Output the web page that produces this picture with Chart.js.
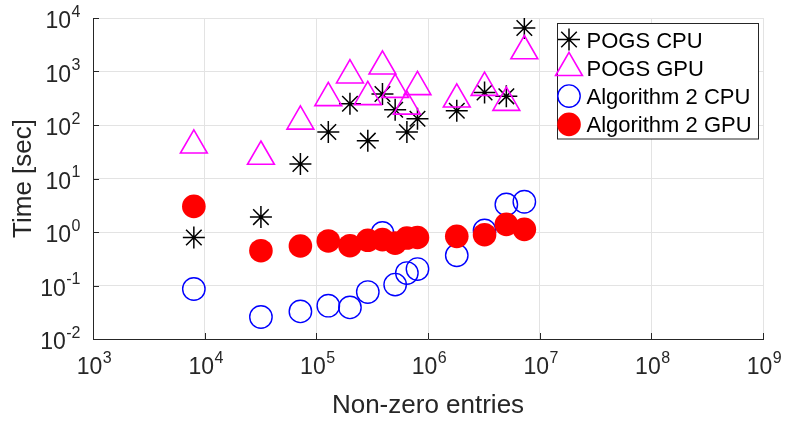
<!DOCTYPE html>
<html>
<head>
<meta charset="utf-8">
<script src="https://cdn.jsdelivr.net/npm/chart.js@4.4.1/dist/chart.umd.min.js"></script>
<style>
  html, body { margin: 0; padding: 0; background: #fff; }
  #wrap { width: 785px; height: 421px; }
</style>
</head>
<body>
<div id="wrap"><canvas id="graphCanvas"></canvas></div>
<script>
// problem sizes (non-zero entries) shared by all four runs
var nnz = [8.0e3, 3.19e4, 7.2e4, 1.28e5, 2.0e5, 2.89e5, 3.91e5, 5.08e5, 6.47e5, 8.05e5, 1.81e6, 3.21e6, 5.03e6, 7.29e6];

// run times in seconds
var pogsCpu = [0.79, 1.9, 18.7, 74, 250, 51, 380, 193, 74, 131, 185, 406, 343, 6500];
var pogsGpu = [41.7, 25.8, 117, 321, 853, 335, 1250, 459, 223, 515, 302, 500, 262, 2415];
var alg2Cpu = [0.086, 0.0258, 0.0328, 0.0419, 0.039, 0.0755, 0.957, 0.104, 0.171, 0.203, 0.366, 1.07, 3.28, 3.68];
var alg2Gpu = [3.01, 0.447, 0.547, 0.68, 0.555, 0.70, 0.72, 0.62, 0.77, 0.79, 0.83, 0.89, 1.39, 1.12];

var seriesNames = ['POGS CPU', 'POGS GPU', 'Algorithm 2 CPU', 'Algorithm 2 GPU'];

// decade exponents used for ticks
var xExps = [3, 4, 5, 6, 7, 8, 9];
var yExps = [-2, -1, 0, 1, 2, 3, 4];

var xTitle = 'Non-zero entries';
var yTitle = 'Time [sec]';

var FONT = '"Liberation Sans", Arial, Helvetica, sans-serif';
var INK = '#262626';
var GRID = '#e3e3e3';

function pairs(ys) {
  return nnz.map(function (x, i) { return {x: x, y: ys[i]}; });
}

function decadeTicks(exps) {
  return function (scale) {
    scale.ticks = exps.map(function (e) { return {value: Math.pow(10, e)}; });
  };
}

// "10" with a raised exponent; y is the baseline of "10"
function drawPower(ctx, e, x, y, align) {
  ctx.font = '23px ' + FONT;
  var wb = ctx.measureText('10').width;
  ctx.font = '16px ' + FONT;
  var we = ctx.measureText(String(e)).width;
  var left = align === 'center' ? x - (wb + we) / 2 : x - wb - we;
  ctx.textAlign = 'left';
  ctx.textBaseline = 'alphabetic';
  ctx.font = '23px ' + FONT;
  ctx.fillText('10', left, y);
  ctx.font = '16px ' + FONT;
  ctx.fillText(String(e), left + wb + 0.5, y - 11.5);
}

var decorations = {
  id: 'decorations',
  afterDraw: function (chart) {
    var ctx = chart.ctx;
    var xs = chart.scales.x, ys = chart.scales.y;
    var area = chart.chartArea;

    ctx.save();
    // inward tick marks
    ctx.strokeStyle = INK;
    ctx.lineWidth = 1;
    ctx.beginPath();
    xExps.forEach(function (e) {
      var px = Math.round(xs.getPixelForValue(Math.pow(10, e))) + 0.5;
      ctx.moveTo(px, area.bottom);
      ctx.lineTo(px, area.bottom - 6);
    });
    yExps.forEach(function (e) {
      var py = Math.round(ys.getPixelForValue(Math.pow(10, e))) + 0.5;
      ctx.moveTo(area.left, py);
      ctx.lineTo(area.left + 6, py);
    });
    ctx.stroke();

    // tick labels
    ctx.fillStyle = INK;
    xExps.forEach(function (e) {
      drawPower(ctx, e, xs.getPixelForValue(Math.pow(10, e)) + 1, area.bottom + 35, 'center');
    });
    yExps.forEach(function (e) {
      drawPower(ctx, e, area.left - 13, ys.getPixelForValue(Math.pow(10, e)) + 10, 'right');
    });

    // axis titles
    ctx.font = '26px ' + FONT;
    ctx.textAlign = 'center';
    ctx.textBaseline = 'alphabetic';
    ctx.fillText(xTitle, (area.left + area.right) / 2, 413);
    ctx.save();
    ctx.translate(31, (area.top + area.bottom) / 2);
    ctx.rotate(-Math.PI / 2);
    ctx.fillText(yTitle, 0, 0);
    ctx.restore();

    // legend box
    ctx.fillStyle = '#fff';
    ctx.fillRect(557.5, 23.5, 201, 115.5);
    ctx.strokeStyle = INK;
    ctx.lineWidth = 1;
    ctx.strokeRect(557.5, 23.5, 201, 115.5);
    chart.data.datasets.forEach(function (ds, i) {
      var y = 39.5 + i * 28.3;
      ctx.strokeStyle = ds.borderColor;
      ctx.fillStyle = ds.backgroundColor;
      ctx.lineWidth = ds.pointBorderWidth || 1;
      Chart.helpers.drawPoint(ctx, {
        pointStyle: ds.pointStyle,
        radius: ds.pointRadius,
        rotation: 0,
        borderWidth: ds.pointBorderWidth
      }, 569, y);
      ctx.fillStyle = '#000';
      ctx.font = '22px ' + FONT;
      ctx.textAlign = 'left';
      ctx.textBaseline = 'alphabetic';
      ctx.fillText(ds.label, 586.5, y + 8);
    });
    ctx.restore();
  }
};

var canvas = document.getElementById('graphCanvas').getContext('2d');

var chart = new Chart(canvas, {
  type: 'scatter',
  data: {
    datasets: [{
      label: seriesNames[0],
      data: pairs(pogsCpu),
      pointStyle: 'star',
      pointRadius: 11,
      pointBorderWidth: 1.5,
      borderColor: '#000000',
      backgroundColor: 'rgba(0,0,0,0)',
      order: 4
    }, {
      label: seriesNames[1],
      data: pairs(pogsGpu),
      pointStyle: 'triangle',
      pointRadius: 15.5,
      pointBorderWidth: 1.6,
      borderColor: '#ff00ff',
      backgroundColor: 'rgba(0,0,0,0)',
      order: 3
    }, {
      label: seriesNames[2],
      data: pairs(alg2Cpu),
      pointStyle: 'circle',
      pointRadius: 11.2,
      pointBorderWidth: 1.4,
      borderColor: '#0000ff',
      backgroundColor: 'rgba(0,0,0,0)',
      order: 2
    }, {
      label: seriesNames[3],
      data: pairs(alg2Gpu),
      pointStyle: 'circle',
      pointRadius: 11.8,
      pointBorderWidth: 0,
      borderColor: '#ff0000',
      backgroundColor: '#ff0000',
      order: 1
    }]
  },
  options: {
    responsive: true,
    maintainAspectRatio: false,
    animation: false,
    events: [],
    layout: { padding: { left: 93, top: 18, right: 22, bottom: 82 } },
    plugins: {
      legend: { display: false },
      tooltip: { enabled: false }
    },
    scales: {
      x: {
        type: 'logarithmic',
        min: 1e3,
        max: 1e9,
        afterBuildTicks: decadeTicks(xExps),
        ticks: { display: false },
        grid: { color: GRID, drawTicks: false },
        border: { color: INK, width: 1 }
      },
      y: {
        type: 'logarithmic',
        min: 1e-2,
        max: 1e4,
        afterBuildTicks: decadeTicks(yExps),
        ticks: { display: false },
        grid: { color: GRID, drawTicks: false },
        border: { color: INK, width: 1 }
      }
    }
  },
  plugins: [decorations]
});
</script>
</body>
</html>
